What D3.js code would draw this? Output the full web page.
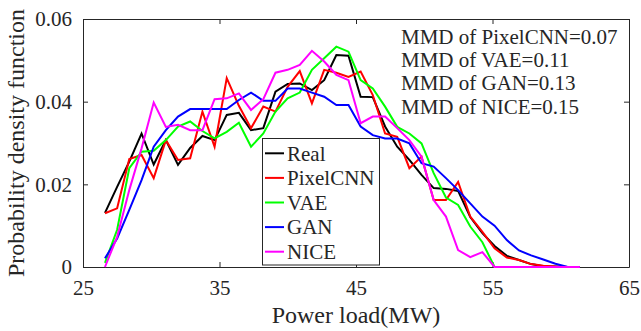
<!DOCTYPE html>
<html>
<head>
<meta charset="utf-8">
<script src="https://cdn.jsdelivr.net/npm/d3@7"></script>
<style>
  html, body { margin: 0; padding: 0; background: #fff; }
  svg { display: block; }
  svg text { font-family: "Liberation Serif", "Times New Roman", serif; }
</style>
</head>
<body>
<div id="chart"></div>
<script>
// bin centres of the load histogram (MW)
const loadBins = [26.61, 27.50, 28.39, 29.29, 30.18, 31.07, 31.96, 32.85, 33.75, 34.64,
  35.53, 36.42, 37.31, 38.21, 39.10, 39.99, 40.88, 41.77, 42.67, 43.56,
  44.45, 45.34, 46.23, 47.13, 48.02, 48.91, 49.80, 50.69, 51.59, 52.48,
  53.37, 54.26, 55.15, 56.05, 56.94, 57.83, 58.72, 59.61, 60.51, 61.40];

const realPdf = [0.0131, 0.0194, 0.0255, 0.0323, 0.0248, 0.0307, 0.0247, 0.0288, 0.0317, 0.0307,
  0.0368, 0.0373, 0.0331, 0.0336, 0.0424, 0.0443, 0.0444, 0.0428, 0.0452, 0.0513,
  0.0511, 0.0412, 0.0411, 0.0340, 0.0291, 0.0259, 0.0223, 0.0191, 0.0189, 0.0184,
  0.0121, 0.0082, 0.0051, 0.0027, 0.0017, 0.0007, 0.0002, 0.0001, 0, 0];
const pixelCnnPdf = [0.0130, 0.0142, 0.0261, 0.0271, 0.0215, 0.0307, 0.0259, 0.0263, 0.0376, 0.0291,
  0.0457, 0.0390, 0.0336, 0.0388, 0.0376, 0.0436, 0.0474, 0.0396, 0.0477, 0.0470,
  0.0460, 0.0473, 0.0416, 0.0323, 0.0315, 0.0239, 0.0267, 0.0162, 0.0162, 0.0206,
  0.0122, 0.0085, 0.0045, 0.0023, 0.0017, 0.0007, 0.0003, 0.0001, 0, 0];
const vaePdf = [0.0010, 0.0090, 0.0239, 0.0279, 0.0281, 0.0307, 0.0340, 0.0352, 0.0329, 0.0311,
  0.0327, 0.0349, 0.0291, 0.0323, 0.0376, 0.0408, 0.0422, 0.0477, 0.0505, 0.0533,
  0.0521, 0.0452, 0.0432, 0.0388, 0.0339, 0.0323, 0.0299, 0.0227, 0.0168, 0.0150,
  0.0098, 0.0060, 0, 0, 0, 0, 0, 0, 0, 0];
const ganPdf = [0.0021, 0.0069, 0.0138, 0.0210, 0.0291, 0.0331, 0.0364, 0.0382, 0.0382, 0.0382,
  0.0382, 0.0404, 0.0422, 0.0402, 0.0402, 0.0432, 0.0432, 0.0422, 0.0412, 0.0392,
  0.0392, 0.0340, 0.0319, 0.0311, 0.0311, 0.0299, 0.0251, 0.0243, 0.0215, 0.0186,
  0.0154, 0.0122, 0.0100, 0.0065, 0.0040, 0.0028, 0.0018, 0.0008, 0, 0];
const nicePdf = [0, 0.0073, 0.0186, 0.0287, 0.0398, 0.0339, 0.0344, 0.0331, 0.0331, 0.0406,
  0.0408, 0.0420, 0.0380, 0.0406, 0.0470, 0.0477, 0.0489, 0.0523, 0.0497, 0.0465,
  0.0452, 0.0348, 0.0364, 0.0364, 0.0336, 0.0307, 0.0267, 0.0162, 0.0122, 0.0041,
  0.0024, 0.0036, 0, 0, 0, 0, 0, 0, 0, 0];

const seriesNames = ["Real", "PixelCNN", "VAE", "GAN", "NICE"];
const seriesColors = ["#000000", "#ff0000", "#00ff00", "#0000ff", "#ff00ff"];
const seriesValues = [realPdf, pixelCnnPdf, vaePdf, ganPdf, nicePdf];

const xTicks = [25, 35, 45, 55, 65];
const yTicks = [0, 0.02, 0.04, 0.06];
const yTickLabels = ["0", "0.02", "0.04", "0.06"];
const mmdNotes = ["MMD of PixelCNN=0.07", "MMD of VAE=0.11", "MMD of GAN=0.13", "MMD of NICE=0.15"];

const width = 641, height = 331;
const margin = { top: 19, right: 12, bottom: 64, left: 83 };
const axisColor = "#262626";
const serif = "'Liberation Serif', 'Times New Roman', serif";

const svg = d3.select("#chart").append("svg")
  .attr("width", width)
  .attr("height", height)
  .attr("font-family", serif);

const x = d3.scaleLinear().domain([25, 65]).range([margin.left, width - margin.right]);
const y = d3.scaleLinear().domain([0, 0.06]).range([height - margin.bottom, margin.top]);

// axes (MATLAB style box with inward ticks)
function styleAxis(g) {
  g.attr("font-family", serif);
  g.select(".domain").attr("stroke", axisColor).attr("stroke-width", 1);
  g.selectAll(".tick line").attr("stroke", axisColor);
  g.selectAll("text").attr("fill", axisColor).attr("font-size", 21);
}

svg.append("g")
  .attr("transform", `translate(0,${y(0)})`)
  .call(d3.axisBottom(x).tickValues(xTicks).tickFormat(d3.format("d"))
    .tickSizeInner(-5).tickSizeOuter(0).tickPadding(13))
  .call(styleAxis);

svg.append("g")
  .attr("transform", `translate(0,${y(0.06)})`)
  .call(d3.axisTop(x).tickValues(xTicks).tickFormat("")
    .tickSizeInner(-5).tickSizeOuter(0))
  .call(styleAxis);

svg.append("g")
  .attr("transform", `translate(${x(25)},0)`)
  .call(d3.axisLeft(y).tickValues(yTicks).tickFormat((d, i) => yTickLabels[i])
    .tickSizeInner(-5).tickSizeOuter(0).tickPadding(11))
  .call(styleAxis);

svg.append("g")
  .attr("transform", `translate(${x(65)},0)`)
  .call(d3.axisRight(y).tickValues(yTicks).tickFormat("")
    .tickSizeInner(-5).tickSizeOuter(0))
  .call(styleAxis);

// lines
const line = d3.line()
  .x((d, i) => x(loadBins[i]))
  .y(d => y(d));

svg.append("g")
  .selectAll("path")
  .data(seriesValues)
  .enter()
  .append("path")
  .attr("d", d => line(d))
  .attr("fill", "none")
  .attr("stroke", (d, i) => seriesColors[i])
  .attr("stroke-width", 2)
  .attr("stroke-linejoin", "miter");

// axis titles
svg.append("text")
  .attr("x", x(45))
  .attr("y", 323)
  .attr("text-anchor", "middle")
  .attr("font-size", 24)
  .attr("fill", axisColor)
  .text("Power load(MW)");

svg.append("text")
  .attr("transform", `translate(24,${(y(0) + y(0.06)) / 2}) rotate(-90)`)
  .attr("text-anchor", "middle")
  .attr("font-size", 24)
  .attr("fill", axisColor)
  .text("Probability density function");

// MMD annotations
svg.append("g")
  .selectAll("text")
  .data(mmdNotes)
  .enter()
  .append("text")
  .attr("x", 401)
  .attr("y", (d, i) => 43.5 + i * 23.4)
  .attr("font-size", 21)
  .attr("fill", axisColor)
  .text(d => d);

// legend
const legend = svg.append("g");
legend.append("rect")
  .attr("x", 262.5).attr("y", 138.5)
  .attr("width", 117).attr("height", 126.5)
  .attr("fill", "#fff")
  .attr("stroke", axisColor);

const item = legend.selectAll("g.item")
  .data(seriesNames)
  .enter()
  .append("g")
  .attr("class", "item")
  .attr("transform", (d, i) => `translate(0,${153.3 + i * 24.6})`);

item.append("line")
  .attr("x1", 265).attr("x2", 284)
  .attr("stroke", (d, i) => seriesColors[i])
  .attr("stroke-width", 2);

item.append("text")
  .attr("x", 287)
  .attr("dy", "0.35em")
  .attr("font-size", 21)
  .attr("fill", axisColor)
  .text(d => d);
</script>
</body>
</html>
